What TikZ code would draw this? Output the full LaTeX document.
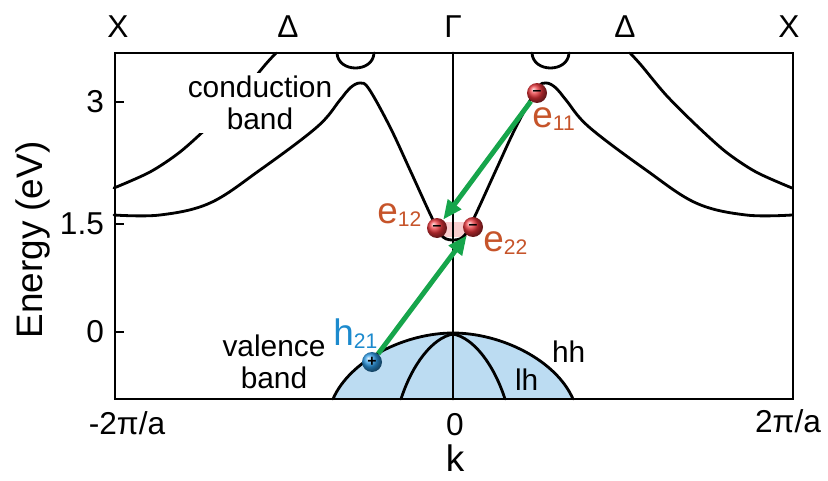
\documentclass[tikz,border=0pt]{standalone}
\usepackage{fontspec}
\setmainfont{Liberation Sans}
\usetikzlibrary{arrows.meta}
\definecolor{egreen}{RGB}{22,165,75}
\definecolor{ered}{RGB}{232,52,58}
\definecolor{eorange}{RGB}{198,84,42}
\definecolor{hblue}{RGB}{28,138,205}
\definecolor{hball}{RGB}{45,155,230}
\definecolor{vbblue}{RGB}{188,220,242}
\newcommand{\idx}[1]{\raisebox{-2pt}{\fontsize{12}{12}\selectfont #1}}

\begin{document}
\begin{tikzpicture}[
    % pixel units, y pointing down
    x=0.02cm, y=-0.02cm,
    frame/.style={line width=1.6pt},
    band/.style={line width=1.6pt, line join=round, line cap=round},
    lbl/.style={font=\fontsize{18}{20}\selectfont, inner sep=1pt},
    txt/.style={font=\fontsize{17}{18}\selectfont, align=center, inner sep=1pt},
    elbl/.style={font=\fontsize{21}{22}\selectfont, text=eorange, inner sep=0pt, anchor=base west},
    elec/.style={circle, ball color=ered, minimum size=0.4cm, inner sep=0pt, font=\bfseries\fontsize{9}{9}\selectfont},
    hole/.style={elec, ball color=hball},
    arrow/.style={-{Triangle[length=11pt,width=9pt]}, line width=2.8pt, egreen}
]
\useasboundingbox (0,0) rectangle (828,480);

% valence band
\fill[vbblue] (333,399) .. controls (350,360) and (405,333) .. (453,333) .. controls (501,333) and (556,360) .. (573,399) -- cycle;
\draw[band] (333,399) .. controls (350,360) and (405,333) .. (453,333) .. controls (501,333) and (556,360) .. (573,399);
\draw[band] (401,399) .. controls (412,365) and (432,338) .. (453,334) .. controls (474,338) and (494,365) .. (505,399);
\fill[ered!25] (443,222) rectangle (467,237);

% axes
\draw[frame] (115,53) rectangle (793,399);
\draw[band] (453,53) -- (453,399);
\foreach \yy/\tl/\nm in {102/3/a, 224/1.5/b, 332/0/c} {
  \draw[frame] (115,\yy) -- (124,\yy);
  \node[lbl, anchor=east] (tick\nm) at (106,\yy) {\tl};
}
\node[lbl] (kX1) at (118,27) {X};
\node[lbl] (kD1) at (288,27) {Δ};
\node[lbl] (kG) at (453,27) {Γ};
\node[lbl] (kD2) at (625,27) {Δ};
\node[lbl] (kX2) at (789,27) {X};
\node[lbl] (kmin) at (127,423) {-2π/a};
\node[lbl] (kzero) at (455,425) {0};
\node[lbl] (kmax) at (788,421) {2π/a};
\node[font=\fontsize{21}{22}\selectfont, inner sep=0pt] (kk) at (455,458) {k};
\node[font=\fontsize{21}{22}\selectfont, rotate=90] (energy) at (33,240) {Energy (eV)};

% conduction band
\foreach \s in {-1,1}
  \draw[band] plot[smooth] coordinates {({453+\s*339},188) ({453+\s*303},172) ({453+\s*273},152) ({453+\s*243},125) ({453+\s*213},95) ({453+\s*188},65) ({453+\s*177},53)};
\node[txt, fill=white, inner sep=2pt] (cb) at (260,103) {conduction\\band};
\foreach \s in {-1,1} {
  \draw[band] plot[smooth, tension=0.6] coordinates {({453+\s*339},215) ({453+\s*293},215) ({453+\s*243},203) ({453+\s*193},170) ({453+\s*136},127) ({453+\s*113},100) ({453+\s*103},88) ({453+\s*93},83) ({453+\s*84},89) ({453+\s*63},127) ({453+\s*43},170) ({453+\s*20},220) ({453+\s*10},237) (453,240)};
  \draw[band] ({453+\s*116},53) .. controls ({453+\s*115},73) and ({453+\s*80},73) .. ({453+\s*79},53);
}

% carriers and transitions
\node[elec] (e11) at (537,93) {–};
\node[elec] (e12) at (437,228) {–};
\node[elec] (e22) at (473,227) {–};
\node[hole] (h21) at (372,362) {+};
\draw[arrow] (h21) -- (e22);
\draw[arrow] (e11) -- (e12);

\node[elbl] (l11) at (532,127) {e\idx{11}};
\node[elbl] (l12) at (377,223) {e\idx{12}};
\node[elbl] (l22) at (483,251) {e\idx{22}};
\node[elbl, text=hblue] (l21) at (333,345) {h\idx{21}};
\node[txt, anchor=base west] (hh) at (550,362) {hh};
\node[txt, anchor=base west] (lh) at (513,390) {lh};
\node[txt] (vb) at (274,362) {valence\\band};
\end{tikzpicture}
\end{document}
